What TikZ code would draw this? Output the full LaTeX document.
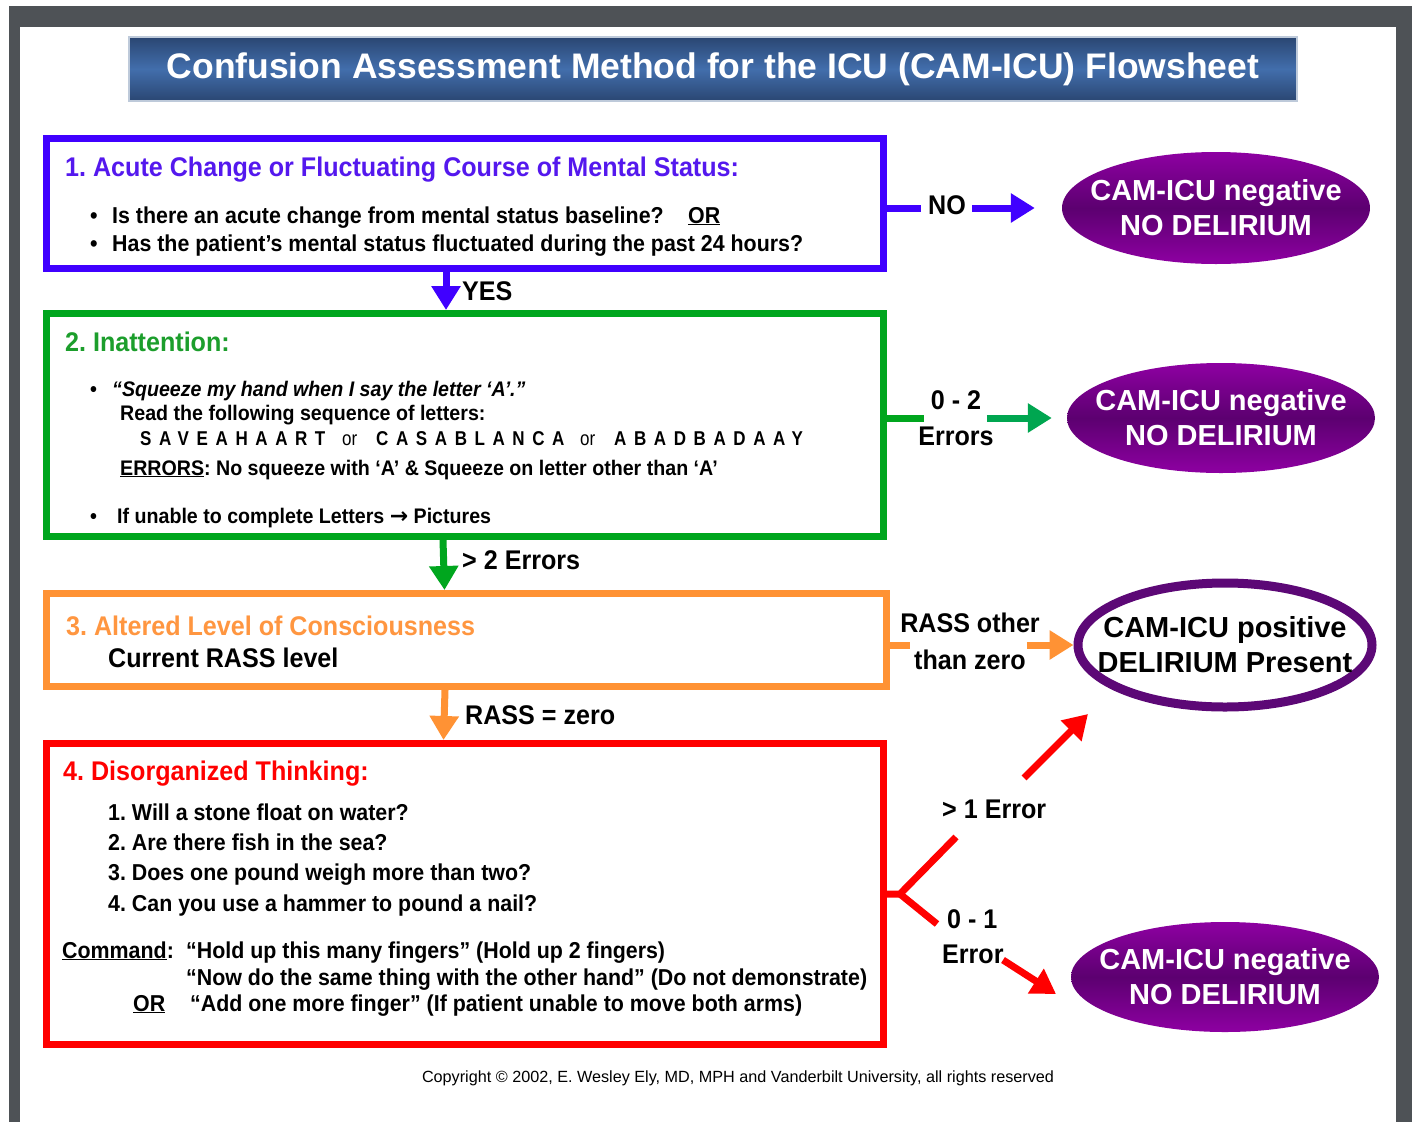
\documentclass[tikz,border=0pt]{standalone}
\usepackage{fontspec}
\setmainfont{Liberation Sans}
\newfontfamily\nf{Liberation Sans}[FakeStretch=0.93]
\newfontfamily\nfl{Liberation Sans}[FakeStretch=0.85]
\newfontfamily\dv{DejaVu Sans}
\usetikzlibrary{shapes.geometric,arrows.meta,calc}
\definecolor{framegray}{RGB}{78,82,86}
\definecolor{tbdark}{RGB}{42,70,114}
\definecolor{tblight}{RGB}{66,110,172}
\definecolor{bluebox}{RGB}{64,0,255}
\definecolor{bluetxt}{RGB}{84,24,238}
\definecolor{greenbox}{RGB}{0,166,30}
\definecolor{greentxt}{RGB}{28,158,44}
\definecolor{greenarr}{RGB}{0,166,80}
\definecolor{orangebox}{RGB}{255,146,52}
\definecolor{orangetxt}{RGB}{255,150,64}
\definecolor{redbox}{RGB}{255,0,0}
\definecolor{purpout}{RGB}{142,0,162}
\definecolor{purpin}{RGB}{92,0,112}
\definecolor{purpring}{RGB}{92,8,118}
\definecolor{tbedge}{RGB}{190,202,218}
\tikzset{
  stepbox/.style={draw=#1, line width=7pt, minimum width=837pt, inner sep=0pt, fill=white},
  body/.style={anchor=base west, inner sep=0pt, font=\nf\bfseries\fontsize{23}{27}\selectfont},
  bodys/.style={anchor=base west, inner sep=0pt, font=\nf\bfseries\fontsize{21.1}{25}\selectfont},
  head/.style={anchor=base west, inner sep=0pt, text=#1, font=\nf\bfseries\fontsize{27}{31}\selectfont},
  lett/.style={anchor=base west, inner sep=0pt, font=\nfl\bfseries\fontsize{20}{24}\selectfont},
  lbl/.style={anchor=base west, inner sep=0pt, font=\nf\bfseries\fontsize{27}{31}\selectfont},
  lblc/.style={anchor=base, inner sep=0pt, font=\nf\bfseries\fontsize{27}{31}\selectfont},
  outcome/.style={ellipse, inner sep=0pt,
    top color=purpout, bottom color=purpout, middle color=purpin},
  otext/.style={inner sep=0pt, align=center, font=\bfseries\fontsize{29}{35}\selectfont},
  conn/.style={draw=#1, line width=7pt},
  arr/.style={draw=#1, line width=7pt, -{Triangle[length=24pt,width=28pt]}},
}
\begin{document}
\frenchspacing
\begin{tikzpicture}[x=1pt,y=-1pt]
\path[use as bounding box] (0,0) rectangle (1416,1122);
\fill[white] (0,0) rectangle (1416,1122);
\fill[framegray] (9,6) rectangle (1412,1122);
\fill[white] (20,27) rectangle (1396,1122);

% title bar
\node[minimum width=1168pt, minimum height=64pt, inner sep=0pt,
  top color=tbdark, bottom color=tbdark, middle color=tblight,
  draw=tbedge, line width=1.2pt,
  text=white, font=\bfseries\fontsize{35.5}{40}\selectfont] (title) at (713,69)
  {Confusion Assessment Method for the ICU (CAM-ICU) Flowsheet};

% boxes
\node[stepbox=bluebox, minimum height=130pt] (b1) at (465,203.5) {};
\node[stepbox=greenbox, minimum height=223pt] (b2) at (465,425) {};
\node[stepbox=orangebox, minimum width=840pt, minimum height=93pt] (b3) at (466.5,640) {};
\node[stepbox=redbox, minimum height=301pt] (b4) at (465,894) {};

% box 1 text
\node[head=bluetxt] (h1) at (65,176) {1. Acute Change or Fluctuating Course of Mental Status:};
\node[body] (b1d1) at (90,223) {•};
\node[body] (b1t1) at (112,223) {Is there an acute change from mental status baseline?};
\node[body] (b1or) at (688,223) {\underline{OR}};
\node[body] (b1d2) at (90,251) {•};
\node[body] (b1t2) at (112,251) {Has the patient’s mental status fluctuated during the past 24 hours?};

% box 2 text
\node[head=greentxt] (h2) at (65,351) {2. Inattention:};
\node[bodys] (b2d1) at (90,396) {•};
\node[bodys] (b2t1) at (112,396) {\itshape “Squeeze my hand when I say the letter ‘A’.”};
\node[bodys] (b2t2) at (120,420) {Read the following sequence of letters:};
\node[lett] (sv) at (140,445) {\addfontfeature{LetterSpace=38}SAVEAHAART};
\node[lett, font=\nfl\fontsize{20}{24}\selectfont] (or1) at (342,445) {or};
\node[lett] (cs) at (376,445) {\addfontfeature{LetterSpace=38}CASABLANCA};
\node[lett, font=\nfl\fontsize{20}{24}\selectfont] (or2) at (580,445) {or};
\node[lett] (ab) at (614,445) {\addfontfeature{LetterSpace=38}ABADBADAAY};
\node[bodys] (b2t4) at (120,475) {\underline{ERRORS}: No squeeze with ‘A’ \& Squeeze on letter other than ‘A’};
\node[bodys] (b2d2) at (90,523) {•};
\node[bodys] (b2t5) at (117,523) {If unable to complete Letters {\dv\bfseries\fontsize{22}{24}\selectfont →} Pictures};

% box 3 text
\node[head=orangetxt] (h3) at (66,635) {3. Altered Level of Consciousness};
\node[head=black] (b3t1) at (108,667) {Current RASS level};

% box 4 text
\node[head=redbox] (h4) at (63,780) {4. Disorganized Thinking:};
\node[body] (q1) at (108,820) {1. Will a stone float on water?};
\node[body] (q2) at (108,850) {2. Are there fish in the sea?};
\node[body] (q3) at (108,880) {3. Does one pound weigh more than two?};
\node[body] (q4) at (108,911) {4. Can you use a hammer to pound a nail?};
\node[body] (cmd) at (62,958) {\underline{Command}:};
\node[body] (c1) at (186,958) {“Hold up this many fingers” (Hold up 2 fingers)};
\node[body] (c2) at (186,985) {“Now do the same thing with the other hand” (Do not demonstrate)};
\node[body] (cor) at (133,1011) {\underline{OR}};
\node[body] (c3) at (190,1011) {“Add one more finger” (If patient unable to move both arms)};

% outcomes
\node[outcome, minimum width=308pt, minimum height=112pt] (e1) at (1216,208) {};
\node[otext, text=white] (e1t) at (e1.center) {CAM-ICU negative\\NO DELIRIUM};
\node[outcome, minimum width=308pt, minimum height=110pt] (e2) at (1221,418) {};
\node[otext, text=white] (e2t) at (e2.center) {CAM-ICU negative\\NO DELIRIUM};
\node[ellipse, draw=purpring, line width=9pt, fill=white, inner sep=0pt,
  minimum width=294pt, minimum height=124pt] (e3) at (1225,645) {};
\node[otext] (e3t) at (e3.center) {CAM-ICU positive\\DELIRIUM Present};
\node[outcome, minimum width=308pt, minimum height=110pt] (e4) at (1225,977) {};
\node[otext, text=white] (e4t) at (e4.center) {CAM-ICU negative\\NO DELIRIUM};

% labels
\node[lbl] (no) at (928,214) {NO};
\node[lbl] (yes) at (462,300) {YES};
\node[lblc] (z2) at (956,409) {0 - 2};
\node[lblc] (errs) at (956,445) {Errors};
\node[lbl] (gt2) at (462,569) {> 2 Errors};
\node[lblc] (ro) at (970,632) {RASS other};
\node[lblc] (tz) at (970,669) {than zero};
\node[lbl] (rz) at (465,724) {RASS = zero};
\node[lbl] (gt1) at (942,818) {> 1 Error};
\node[lbl] (z1) at (947,928) {0 - 1};
\node[lbl] (err1) at (942,963) {Error};

% connectors
\draw[conn=bluebox] (b1.east |- e1.west) -- ([xshift=-7pt]no.west |- e1.west);
\draw[arr=bluebox] ([xshift=6pt]no.east |- e1.west) -- ([xshift=-27pt]e1.west);
\draw[arr=bluebox] ([xshift=-19pt]b1.south) -- ([xshift=-19pt]b2.north);

\draw[conn=greenbox] (b2.east |- e2.west) -- ([xshift=6pt]errs.west |- e2.west);
\draw[arr=greenarr] ([xshift=-7pt]errs.east |- e2.west) -- ([xshift=-15pt]e2.west);
\draw[arr=greenbox] ([xshift=-22pt]b2.south) -- ([xshift=-22pt]b3.north);

\draw[conn=orangebox] (b3.east |- e3.west) -- ([xshift=10pt]ro.west |- e3.west);
\draw[arr=orangebox] ([xshift=-13pt]ro.east |- e3.west) -- (e3.west);
\draw[arr=orangebox] ([xshift=-21.5pt]b3.south) -- ([xshift=-21.5pt]b4.north);

\coordinate (br) at ([xshift=13pt]b4.east);
\coordinate (upA) at (1024,778);
\coordinate (upB) at (1088,714);
\coordinate (dnA) at (1003,960);
\coordinate (dnB) at (1056,994);
\draw[conn=redbox] (b4.east) -- (br) -- ++(56,-57);
\draw[conn=redbox] (br) -- ++(37,30);
\draw[arr=redbox] (upA) -- (upB);
\draw[arr=redbox] (dnA) -- (dnB);

% copyright
\node[inner sep=0pt, font=\fontsize{16.2}{19}\selectfont] (copy) at (738,1078)
  {Copyright © 2002, E. Wesley Ely, MD, MPH and Vanderbilt University, all rights reserved};
\end{tikzpicture}
\end{document}
